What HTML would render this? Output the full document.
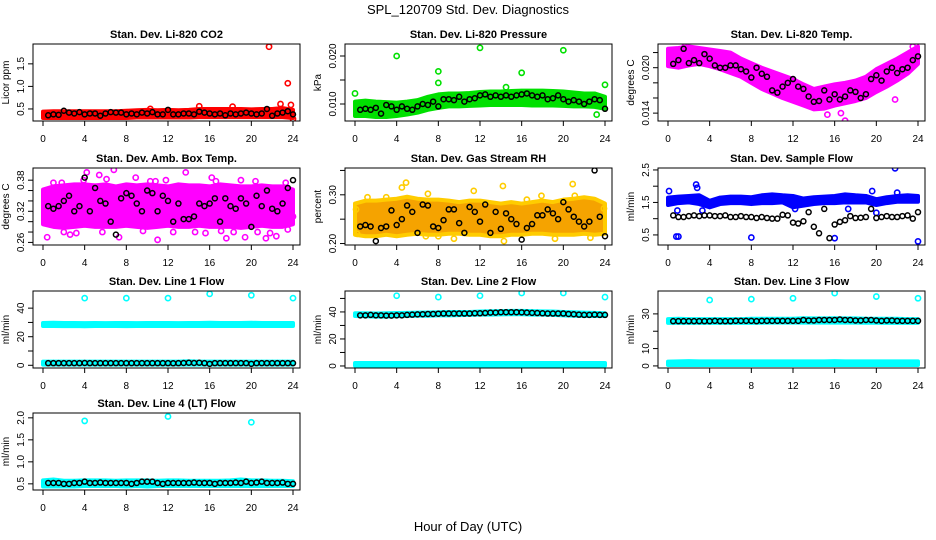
<!DOCTYPE html>
<html><head><meta charset="utf-8">
<style>
html,body{margin:0;padding:0;background:#fff;}
svg{display:block;font-family:"Liberation Sans",Arial,sans-serif;}
</style></head>
<body>
<svg id="fig" width="936" height="540" viewBox="0 0 936 540" xmlns="http://www.w3.org/2000/svg">
<rect width="936" height="540" fill="#fff"/>
<text x="468" y="14" text-anchor="middle" font-size="13">SPL_120709  Std. Dev. Diagnostics</text>
<text x="468" y="531" text-anchor="middle" font-size="13">Hour of Day (UTC)</text>
</svg>
<script>
// ---- data (hours 0..24 for bands, 0.5..24 for black series) ----
const bandHours = [0,1,2,3,4,5,6,7,8,9,10,11,12,13,14,15,16,17,18,19,20,21,22,23,24];
const co2Lo = [0.30,0.30,0.30,0.30,0.30,0.30,0.30,0.30,0.30,0.31,0.31,0.31,0.31,0.31,0.31,0.32,0.32,0.32,0.32,0.32,0.32,0.32,0.32,0.32,0.30];
const co2Hi = [0.44,0.45,0.45,0.45,0.45,0.45,0.45,0.45,0.46,0.47,0.48,0.47,0.48,0.47,0.48,0.50,0.50,0.50,0.50,0.50,0.49,0.50,0.50,0.52,0.48];
const co2OutX = [21.7,23.5,22.8,23.8,15,18.2,24,10.3];
const co2OutY = [1.88,1.07,0.61,0.59,0.56,0.55,0.28,0.50];
const co2Black = [0.36,0.38,0.37,0.46,0.42,0.40,0.43,0.38,0.40,0.40,0.35,0.40,0.43,0.42,0.42,0.38,0.40,0.38,0.42,0.40,0.43,0.38,0.38,0.48,0.38,0.38,0.40,0.40,0.38,0.44,0.42,0.40,0.38,0.40,0.36,0.40,0.38,0.40,0.42,0.40,0.38,0.40,0.50,0.35,0.40,0.42,0.45,0.38];

const prLo = [0.0075,0.0075,0.0073,0.0073,0.0075,0.0078,0.0082,0.0088,0.0092,0.0095,0.0095,0.0096,0.0097,0.0098,0.0098,0.0098,0.0098,0.0097,0.0097,0.0097,0.0096,0.0095,0.0095,0.0094,0.0090];
const prHi = [0.0105,0.0107,0.0105,0.0104,0.0103,0.0105,0.0108,0.0115,0.0120,0.0122,0.0122,0.0123,0.0125,0.0126,0.0126,0.0127,0.0128,0.0128,0.0128,0.0127,0.0126,0.0124,0.0122,0.0122,0.0115];
const prOutX = [0,4,8,8,12,16,20,24,23.2,14.5];
const prOutY = [0.0122,0.0200,0.0168,0.0144,0.0217,0.0165,0.0212,0.0140,0.0078,0.0135];
const prBlack = [0.0088,0.0090,0.0088,0.0092,0.0080,0.0098,0.0095,0.0088,0.0095,0.0090,0.0088,0.0095,0.0100,0.0098,0.0105,0.0095,0.0110,0.0110,0.0108,0.0115,0.0105,0.0110,0.0112,0.0118,0.0120,0.0115,0.0118,0.0115,0.0118,0.0115,0.0118,0.0120,0.0122,0.0118,0.0115,0.0118,0.0110,0.0112,0.0118,0.0110,0.0105,0.0108,0.0105,0.0100,0.0105,0.0110,0.0108,0.0090];

const tpLo = [0.0202,0.0200,0.0203,0.0205,0.0202,0.0198,0.0193,0.0188,0.0180,0.0172,0.0166,0.0160,0.0155,0.0150,0.0145,0.0146,0.0150,0.0153,0.0156,0.0160,0.0168,0.0175,0.0183,0.0192,0.0205];
const tpHi = [0.0225,0.0226,0.0228,0.0226,0.0224,0.0222,0.0220,0.0212,0.0206,0.0200,0.0195,0.0190,0.0185,0.0178,0.0172,0.0175,0.0178,0.0180,0.0183,0.0188,0.0198,0.0205,0.0212,0.0220,0.0228];
const tpOutX = [17,1.6,23.5,15.3,21.8,16.6];
const tpOutY = [0.0130,0.0228,0.0228,0.0138,0.0158,0.0140];
const tpBlack = [0.0205,0.0210,0.0225,0.0206,0.0210,0.0206,0.0218,0.0212,0.0203,0.0200,0.0200,0.0203,0.0203,0.0198,0.0195,0.0187,0.0200,0.0192,0.0188,0.0170,0.0167,0.0175,0.0180,0.0185,0.0175,0.0172,0.0162,0.0155,0.0156,0.0170,0.0158,0.0165,0.0158,0.0162,0.0170,0.0168,0.0160,0.0165,0.0185,0.0190,0.0183,0.0195,0.0200,0.0193,0.0198,0.0200,0.0210,0.0215];

const abLo = [0.295,0.290,0.288,0.290,0.292,0.290,0.290,0.290,0.292,0.290,0.288,0.290,0.292,0.290,0.290,0.292,0.290,0.290,0.290,0.288,0.290,0.292,0.290,0.290,0.295];
const abHi = [0.362,0.368,0.370,0.372,0.372,0.370,0.372,0.368,0.372,0.370,0.372,0.370,0.368,0.372,0.370,0.370,0.368,0.372,0.370,0.368,0.368,0.370,0.368,0.368,0.362];
const abOutX = [0.4,1.0,1.8,2.6,3.2,3.9,4.2,5.4,5.7,6.8,7.3,8.9,9.6,10.3,11.0,11.8,12.5,13.7,14.6,15.6,16.6,17.1,17.6,18.3,19.0,19.4,20.4,21.4,21.8,22.4,23.5,24.0,2.0,6.1,10.8,16.2,20.6,23.3];
const abOutY = [0.270,0.375,0.375,0.275,0.278,0.380,0.395,0.390,0.280,0.400,0.270,0.385,0.282,0.378,0.265,0.380,0.280,0.395,0.280,0.278,0.378,0.282,0.268,0.280,0.380,0.270,0.378,0.268,0.278,0.272,0.285,0.310,0.280,0.382,0.378,0.385,0.280,0.375];
const abBlack = [0.330,0.325,0.330,0.340,0.350,0.320,0.330,0.385,0.320,0.365,0.340,0.335,0.300,0.275,0.345,0.355,0.350,0.335,0.320,0.360,0.355,0.320,0.350,0.340,0.300,0.335,0.305,0.305,0.310,0.335,0.330,0.335,0.345,0.300,0.345,0.330,0.325,0.345,0.335,0.290,0.350,0.330,0.360,0.325,0.320,0.335,0.365,0.380];

const rhLo = [0.218,0.215,0.215,0.218,0.215,0.218,0.220,0.218,0.218,0.220,0.220,0.218,0.218,0.215,0.215,0.218,0.218,0.220,0.220,0.218,0.218,0.218,0.220,0.218,0.220];
const rhHi = [0.282,0.288,0.288,0.290,0.292,0.296,0.292,0.290,0.290,0.288,0.285,0.288,0.288,0.285,0.282,0.285,0.282,0.285,0.288,0.285,0.290,0.292,0.295,0.292,0.282];
const rhOutX = [0.2,1.2,3.0,4.5,4.9,7.0,8.0,11.4,14.2,14.3,17.9,20.9,21.1,23.9,0.1,6.8,9.5,16.5,19.2,22.6];
const rhOutY = [0.220,0.295,0.295,0.315,0.325,0.302,0.215,0.308,0.318,0.205,0.298,0.322,0.298,0.272,0.270,0.215,0.210,0.290,0.210,0.212];
const rhBlack = [0.235,0.238,0.235,0.205,0.232,0.235,0.268,0.238,0.250,0.278,0.265,0.222,0.280,0.278,0.235,0.232,0.248,0.270,0.270,0.242,0.222,0.275,0.265,0.245,0.280,0.222,0.265,0.230,0.262,0.250,0.240,0.208,0.232,0.240,0.258,0.258,0.270,0.262,0.250,0.285,0.270,0.255,0.245,0.235,0.245,0.350,0.255,0.215];

const sfLo = [1.42,1.48,1.50,1.45,1.35,1.45,1.48,1.48,1.45,1.48,1.48,1.50,1.35,1.40,1.45,1.48,1.48,1.50,1.50,1.50,1.42,1.48,1.52,1.52,1.52];
const sfHi = [1.65,1.68,1.70,1.72,1.55,1.65,1.68,1.68,1.66,1.72,1.75,1.72,1.70,1.62,1.66,1.68,1.70,1.75,1.72,1.70,1.60,1.66,1.70,1.72,1.70];
const sfOutX = [0.8,1.0,2.7,2.8,8.0,16.0,21.8,24.0,0.1,19.6,22.0,3.3,0.9,12.2,17.3,20.0];
const sfOutY = [0.45,0.45,2.05,1.95,0.42,0.40,2.55,0.30,1.85,1.85,1.80,1.25,1.25,1.30,1.30,1.18];
const sfBlack = [1.10,1.05,1.05,1.08,1.10,1.08,1.10,1.10,1.08,1.08,1.10,1.05,1.05,1.08,1.05,1.05,1.02,1.05,1.02,1.00,1.00,1.12,1.10,0.88,0.85,0.92,1.20,0.75,0.55,1.30,0.40,0.82,0.90,0.95,1.08,1.02,1.03,1.05,1.30,1.02,1.05,1.08,1.05,1.05,1.08,1.10,1.00,1.20];

const l1Lo = [27.5,27.5,27.4,27.5,27.3,27.5,27.5,27.5,27.4,27.5,27.5,27.5,27.5,27.5,27.5,27.5,27.5,27.5,27.5,27.5,27.5,27.5,27.5,27.5,27.5];
const l1Hi = [29.6,29.8,29.6,29.6,29.5,29.6,29.5,29.6,29.6,29.5,29.6,29.6,29.6,29.5,29.6,29.6,29.8,29.6,29.6,29.6,29.8,29.6,29.6,29.6,29.6];
const l1LowLo = [0.5,0.5,0.5,0.5,0.5,0.5,0.5,0.5,0.5,0.5,0.5,0.5,0.5,0.5,0.5,0.5,0.5,0.5,0.5,0.5,0.5,0.5,0.5,0.5,0.5];
const l1LowHi = [2.6,2.6,2.6,2.6,2.6,2.6,2.6,2.6,2.6,2.6,2.6,2.6,2.6,2.6,2.8,2.6,2.6,2.6,2.6,2.6,2.6,2.6,2.6,2.6,2.6];
const l1OutX = [4,8,12,16,20,24];
const l1OutY = [47,47,47,50,49,47];
const l1Black = [1.5,1.5,1.5,1.5,1.5,1.5,1.5,1.6,1.5,1.5,1.5,1.5,1.5,1.5,1.5,1.5,1.5,1.5,1.5,1.5,1.5,1.5,1.5,1.5,1.4,1.5,1.6,1.8,1.6,1.8,1.5,1.0,1.5,1.5,1.5,1.5,1.5,1.5,1.5,1.0,1.5,1.5,1.5,1.5,1.5,1.5,1.5,1.5];

const l2Lo = [37.0,36.8,36.5,36.5,36.8,37.0,37.2,37.2,37.5,37.5,37.6,37.8,38.0,38.0,38.2,38.3,38.3,38.0,38.0,37.8,37.5,37.2,37.0,37.0,37.0];
const l2Hi = [39.0,39.0,38.8,39.0,39.2,39.3,39.5,39.6,39.8,40.0,40.0,40.0,40.3,40.5,40.6,40.8,40.8,40.6,40.4,40.3,40.0,39.8,39.5,39.3,39.0];
const l2LowLo = [0.3,0.3,0.3,0.3,0.3,0.3,0.3,0.3,0.3,0.3,0.3,0.3,0.3,0.3,0.3,0.3,0.3,0.3,0.3,0.3,0.3,0.3,0.3,0.3,0.3];
const l2LowHi = [2.2,2.2,2.2,2.2,2.2,2.2,2.2,2.2,2.2,2.2,2.2,2.2,2.2,2.2,2.2,2.2,2.2,2.2,2.2,2.2,2.2,2.2,2.2,2.2,2.2];
const l2OutX = [4,8,12,16,20,24];
const l2OutY = [52,51,52,54,54,51];
const l2Black = [37.5,37.5,37.8,37.5,37.5,37.3,37.3,37.5,37.5,37.8,38.0,38.2,38.3,38.5,38.5,38.7,38.8,38.8,38.8,38.8,38.8,38.8,39.0,39.0,39.2,39.5,39.5,39.8,39.8,39.8,39.8,39.7,39.5,39.3,39.2,39.0,38.8,38.8,38.8,38.8,38.5,38.3,38.0,37.8,37.8,38.0,37.8,37.8];

const l3Lo = [24.8,24.8,24.8,24.8,24.8,24.8,24.8,24.8,24.8,24.9,25.0,25.0,25.0,25.0,25.0,25.0,25.0,25.0,25.0,24.9,24.9,24.8,24.8,24.8,24.8];
const l3Hi = [27.0,27.2,27.0,27.0,27.0,27.0,27.0,27.0,27.2,27.2,27.2,27.2,27.2,27.5,27.4,27.4,27.5,27.4,27.4,27.2,27.2,27.2,27.2,27.0,27.0];
const l3LowLo = [0.5,0.5,0.5,0.5,0.5,0.5,0.5,0.5,0.5,0.5,0.5,0.5,0.5,0.5,0.5,0.5,0.5,0.5,0.5,0.5,0.5,0.5,0.5,0.5,0.5];
const l3LowHi = [2.5,2.6,2.8,2.6,2.6,2.6,2.6,2.6,2.6,2.6,2.6,2.6,2.6,2.6,2.6,2.6,2.8,2.6,2.6,2.6,2.6,2.6,2.6,2.6,2.6];
const l3OutX = [4,8,12,16,20,24];
const l3OutY = [38,38.5,39,42,40,39];
const l3Black = [25.8,25.8,25.8,25.8,25.8,25.8,25.8,25.8,26.0,25.8,25.8,25.8,26.0,26.0,26.0,26.0,25.8,26.0,26.0,26.0,26.0,26.0,26.0,26.0,26.0,26.5,26.2,26.2,26.5,26.5,26.5,26.5,26.8,26.5,26.5,26.2,26.2,26.5,26.5,26.2,26.0,26.2,26.2,26.0,26.0,26.0,26.0,26.0];

const l4Lo = [0.44,0.44,0.44,0.44,0.45,0.45,0.45,0.45,0.44,0.45,0.44,0.45,0.45,0.45,0.45,0.45,0.45,0.45,0.45,0.45,0.45,0.45,0.45,0.45,0.45];
const l4Hi = [0.58,0.60,0.57,0.57,0.58,0.58,0.58,0.57,0.58,0.58,0.58,0.57,0.58,0.58,0.57,0.57,0.57,0.57,0.58,0.60,0.58,0.58,0.57,0.57,0.56];
const l4OutX = [4,12,20];
const l4OutY = [1.93,2.03,1.90];
const l4Black = [0.52,0.52,0.52,0.50,0.50,0.52,0.52,0.55,0.52,0.52,0.53,0.52,0.52,0.52,0.52,0.52,0.50,0.52,0.55,0.55,0.55,0.52,0.50,0.52,0.52,0.52,0.52,0.52,0.53,0.52,0.52,0.52,0.50,0.52,0.52,0.52,0.53,0.52,0.55,0.52,0.53,0.55,0.52,0.52,0.52,0.53,0.50,0.50];

const blackHours = [];
for (let i = 1; i <= 48; i++) blackHours.push(i * 0.5);

const xTicks = [0,4,8,12,16,20,24];

// ---- layout ----
const NS = "http://www.w3.org/2000/svg";
const svg = document.getElementById('fig');
const colLeft = [33, 345, 658];
const rowTop = [44, 168, 291, 413];
const boxW = 267, boxH = 77;

function mk(tag, attrs, parent) {
  const e = document.createElementNS(NS, tag);
  for (const k in attrs) e.setAttribute(k, attrs[k]);
  (parent || svg).appendChild(e);
  return e;
}

const panels = [
  {name:'co2', title:'Stan. Dev. Li-820 CO2', ylab:'Licor ppm', col:0, row:0, ylim:[0.233,1.94], ticks:[0.5,1.0,1.5], labels:['0.5','1.0','1.5'], color:'#ff0000',
   bands:[[co2Lo,co2Hi]], ox:co2OutX, oy:co2OutY, black:co2Black},
  {name:'pressure', title:'Stan. Dev. Li-820 Pressure', ylab:'kPa', col:1, row:0, ylim:[0.00646,0.0225], ticks:[0.010,0.015,0.020], labels:['0.010','','0.020'], color:'#00e000',
   bands:[[prLo,prHi]], ox:prOutX, oy:prOutY, black:prBlack},
  {name:'temp', title:'Stan. Dev. Li-820 Temp.', ylab:'degrees C', col:2, row:0, ylim:[0.01296,0.02313], ticks:[0.014,0.016,0.018,0.020,0.022], labels:['0.014','','','0.020',''], color:'#ff00ff',
   bands:[[tpLo,tpHi]], ox:tpOutX, oy:tpOutY, black:tpBlack},
  {name:'amb-box-temp', title:'Stan. Dev. Amb. Box Temp.', ylab:'degrees C', col:0, row:1, ylim:[0.255,0.4035], ticks:[0.26,0.28,0.30,0.32,0.34,0.36,0.38], labels:['0.26','','','0.32','','','0.38'], color:'#ff00ff',
   bands:[[abLo,abHi]], ox:abOutX, oy:abOutY, black:abBlack},
  {name:'gas-stream-rh', title:'Stan. Dev. Gas Stream RH', ylab:'percent', col:1, row:1, ylim:[0.197,0.355], ticks:[0.20,0.25,0.30,0.35], labels:['0.20','','0.30',''], color:'#f5a300', stroke2:'#ffcc00',
   bands:[[rhLo,rhHi]], ox:rhOutX, oy:rhOutY, black:rhBlack},
  {name:'sample-flow', title:'Stan. Dev. Sample Flow', ylab:'ml/min', col:2, row:1, ylim:[0.19,2.56], ticks:[0.5,1.0,1.5,2.0,2.5], labels:['0.5','','1.5','','2.5'], color:'#0000ff',
   bands:[[sfLo,sfHi]], ox:sfOutX, oy:sfOutY, black:sfBlack},
  {name:'line1-flow', title:'Stan. Dev. Line 1 Flow', ylab:'ml/min', col:0, row:2, ylim:[-1.9,52], ticks:[0,10,20,30,40], labels:['0','','20','','40'], color:'#00ffff',
   bands:[[l1Lo,l1Hi],[l1LowLo,l1LowHi]], ox:l1OutX, oy:l1OutY, black:l1Black},
  {name:'line2-flow', title:'Stan. Dev. Line 2 Flow', ylab:'ml/min', col:1, row:2, ylim:[-1.5,55.5], ticks:[0,10,20,30,40,50], labels:['0','','20','','40',''], color:'#00ffff',
   bands:[[l2Lo,l2Hi],[l2LowLo,l2LowHi]], ox:l2OutX, oy:l2OutY, black:l2Black},
  {name:'line3-flow', title:'Stan. Dev. Line 3 Flow', ylab:'ml/min', col:2, row:2, ylim:[-1.2,43.2], ticks:[0,10,20,30], labels:['0','10','','30'], color:'#00ffff',
   bands:[[l3Lo,l3Hi],[l3LowLo,l3LowHi]], ox:l3OutX, oy:l3OutY, black:l3Black},
  {name:'line4-flow', title:'Stan. Dev. Line 4 (LT) Flow', ylab:'ml/min', col:0, row:3, ylim:[0.36,2.11], ticks:[0.5,1.0,1.5,2.0], labels:['0.5','1.0','1.5','2.0'], color:'#00ffff',
   bands:[[l4Lo,l4Hi]], ox:l4OutX, oy:l4OutY, black:l4Black}
];

panels.forEach(p => {
  const L = colLeft[p.col], T = rowTop[p.row], R = L + boxW, B = T + boxH;
  const x0 = L + 10, x1 = R - 7;
  const sx = h => x0 + (h / 24) * (x1 - x0);
  const sy = v => B - (v - p.ylim[0]) / (p.ylim[1] - p.ylim[0]) * boxH;

  const g = mk('g', {});
  
  

  const t = mk('text', {x: (L + R) / 2, y: T - 6, 'text-anchor': 'middle', 'font-size': 11, 'font-weight': 'bold'}, g);
  t.textContent = p.title;
  
  

  const cy = (T + B) / 2, lx = L - 24;
  const yl = mk('text', {x: lx, y: cy, 'text-anchor': 'middle', 'font-size': 10, transform: `rotate(-90 ${lx} ${cy})`}, g);
  yl.textContent = p.ylab;
  
  

  const clip = mk('clipPath', {id: 'clip-' + p.name}, g);
  mk('rect', {x: L, y: T, width: boxW, height: boxH}, clip);
  const dg = mk('g', {'clip-path': `url(#clip-${p.name})`}, g);
  
  

  p.bands.forEach((bd, bi) => {
    const lo = bd[0], hi = bd[1];
    let pts = [];
    bandHours.forEach((h, i) => pts.push(sx(h) + ',' + sy(hi[i])));
    for (let i = bandHours.length - 1; i >= 0; i--) pts.push(sx(bandHours[i]) + ',' + sy(lo[i]));
    const poly = mk('polygon', {points: pts.join(' '), fill: p.color, stroke: p.stroke2 || p.color, 'stroke-width': 4, 'stroke-linejoin': 'round'}, dg);
    
    
  });

  p.ox.forEach((h, i) => {
    const c = mk('circle', {cx: sx(h), cy: sy(p.oy[i]), r: 2.6, fill: 'none', stroke: p.stroke2 || p.color, 'stroke-width': 1.6}, dg);
    
    
  });

  p.black.forEach((v, i) => {
    const c = mk('circle', {cx: sx(blackHours[i]), cy: sy(v), r: 2.5, fill: 'none', stroke: '#000', 'stroke-width': 1.5}, dg);
    
    
  });

  const box = mk('rect', {x: L, y: T, width: boxW, height: boxH, fill: 'none', stroke: '#000', 'stroke-width': 1}, g);
  
  

  const xa = mk('g', {}, g);
  
  
  xTicks.forEach(h => {
    mk('line', {x1: sx(h), x2: sx(h), y1: B, y2: B + 5, stroke: '#000'}, xa);
    const tl = mk('text', {x: sx(h), y: B + 21, 'text-anchor': 'middle', 'font-size': 10}, xa);
    tl.textContent = h;
  });

  const ya = mk('g', {}, g);
  
  
  p.ticks.forEach((v, i) => {
    const y = sy(v);
    mk('line', {x1: L - 5, x2: L, y1: y, y2: y, stroke: '#000'}, ya);
    if (p.labels[i]) {
      const tx = L - 9;
      const tl = mk('text', {x: tx, y: y, 'text-anchor': 'middle', 'font-size': 10, transform: `rotate(-90 ${tx} ${y})`}, ya);
      tl.textContent = p.labels[i];
    }
  });
});
</script>
</body></html>
